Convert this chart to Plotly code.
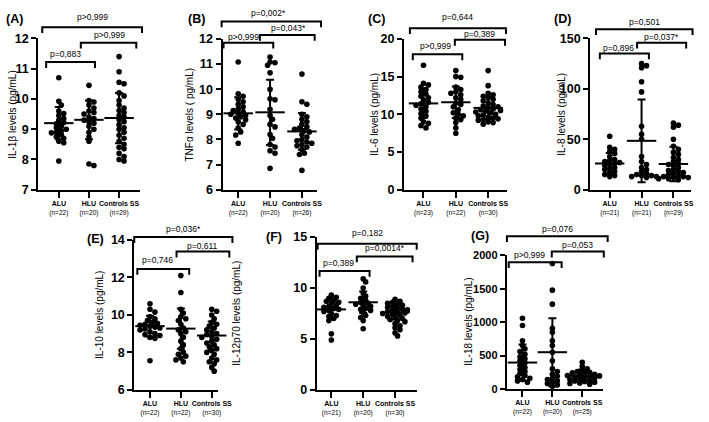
import numpy as np
import plotly.graph_objects as go

W, H = 709, 422
groups = ["ALU", "HLU", "Controls SS"]

# ---------------- data ----------------
# (A) IL-1beta
il1b_n = [22, 20, 29]
il1b_alu = [10.7, 9.92, 9.8, 9.6, 9.52, 9.45, 9.35, 9.3, 9.22, 9.18, 9.1, 9.05, 9.0, 8.95, 8.9, 8.88, 8.82, 8.75, 8.7, 8.6, 8.55, 7.95]
il1b_hlu = [10.45, 9.95, 9.9, 9.8, 9.7, 9.6, 9.55, 9.5, 9.4, 9.35, 9.3, 9.25, 9.2, 9.1, 9.0, 8.9, 8.75, 8.6, 7.85, 7.8]
il1b_ctl = [11.4, 10.9, 10.55, 10.5, 10.2, 10.1, 9.95, 9.8, 9.7, 9.62, 9.55, 9.45, 9.4, 9.32, 9.25, 9.15, 9.05, 9.0, 8.9, 8.8, 8.7, 8.6, 8.5, 8.4, 8.35, 8.2, 8.1, 8.0, 7.95]
il1b_mean = [9.2, 9.31, 9.37]
il1b_sd = [0.53, 0.64, 0.83]
il1b_p = ["p>0,999", "p>0,999", "p=0,883"]

# (B) TNF-alpha
tnf_n = [22, 20, 26]
tnf_alu = [11.08, 9.82, 9.72, 9.6, 9.5, 9.4, 9.3, 9.22, 9.15, 9.1, 9.05, 9.0, 8.95, 8.9, 8.85, 8.78, 8.7, 8.6, 8.45, 8.3, 8.18, 7.85]
tnf_hlu = [11.28, 11.08, 11.05, 10.95, 10.65, 10.0, 9.62, 9.58, 9.2, 8.95, 8.8, 8.6, 8.5, 8.2, 8.05, 7.8, 7.7, 7.55, 7.45, 6.85]
tnf_ctl = [10.6, 9.5, 9.4, 9.0, 8.9, 8.8, 8.7, 8.6, 8.5, 8.45, 8.4, 8.35, 8.3, 8.2, 8.1, 8.0, 7.95, 7.9, 7.85, 7.8, 7.75, 7.7, 7.6, 7.45, 7.4, 6.77]
tnf_mean = [9.04, 9.08, 8.32]
tnf_sd = [0.64, 1.3, 0.73]
tnf_p = ["p=0,002*", "p=0,043*", "p>0,999"]

# (C) IL-6
il6_n = [23, 22, 30]
il6_alu = [16.5, 14.1, 13.9, 13.6, 13.3, 13.0, 12.7, 12.4, 12.2, 11.9, 11.6, 11.4, 11.2, 11.0, 10.7, 10.4, 10.1, 9.8, 9.5, 9.0, 8.8, 8.5, 8.2]
il6_hlu = [15.8, 15.0, 14.9, 13.6, 13.3, 13.0, 12.8, 12.6, 12.2, 12.0, 11.5, 11.3, 11.0, 10.6, 10.2, 10.0, 9.8, 9.5, 9.3, 8.9, 8.2, 7.5]
il6_ctl = [15.8, 13.8, 12.8, 12.6, 12.4, 12.2, 12.0, 11.8, 11.5, 11.3, 11.1, 11.0, 10.9, 10.7, 10.6, 10.5, 10.4, 10.3, 10.2, 10.0, 9.9, 9.8, 9.6, 9.5, 9.4, 9.3, 9.2, 9.0, 8.9, 8.7]
il6_mean = [11.45, 11.6, 10.85]
il6_sd = [1.95, 2.1, 1.5]
il6_p = ["p=0,644", "p=0,389", "p>0,999"]

# (D) IL-8
il8_n = [21, 21, 29]
il8_alu = [53, 42, 40, 38, 36, 33, 30, 29, 28, 27, 26, 25, 24, 22, 21, 20, 18, 17, 15, 14, 13]
il8_hlu = [125, 123, 121, 107, 97, 63, 55, 50, 33, 28, 25, 22, 20, 18, 16, 15, 14, 14, 13, 13, 12]
il8_ctl = [66, 64, 62, 50, 43, 40, 37, 35, 32, 30, 28, 26, 25, 24, 22, 20, 19, 18, 17, 16, 15, 14, 13, 13, 12, 12, 11, 11, 10]
il8_mean = [26, 48.5, 25.5]
il8_sd = [10.5, 41, 17]
il8_p = ["p=0,501", "p=0,037*", "p=0,896"]

# (E) IL-10
il10_n = [22, 22, 30]
il10_alu = [10.6, 10.3, 10.15, 9.9, 9.8, 9.7, 9.6, 9.55, 9.5, 9.45, 9.4, 9.35, 9.3, 9.25, 9.2, 9.1, 9.0, 8.95, 8.9, 8.8, 8.75, 7.55]
il10_hlu = [12.1, 11.2, 10.3, 10.1, 9.9, 9.8, 9.7, 9.5, 9.3, 9.2, 9.1, 9.0, 8.8, 8.6, 8.4, 8.2, 8.0, 7.9, 7.8, 7.7, 7.6, 7.5]
il10_ctl = [10.3, 10.2, 10.0, 9.8, 9.6, 9.5, 9.4, 9.3, 9.2, 9.1, 9.0, 8.95, 8.9, 8.85, 8.8, 8.7, 8.6, 8.5, 8.4, 8.3, 8.2, 8.1, 8.0, 7.9, 7.7, 7.6, 7.5, 7.4, 7.2, 7.0]
il10_mean = [9.4, 9.27, 8.9]
il10_sd = [0.55, 1.07, 0.75]
il10_p = ["p=0,036*", "p=0,611", "p=0,746"]

# (F) IL-12p70
il12_n = [21, 20, 30]
il12_alu = [9.3, 9.1, 9.0, 8.8, 8.7, 8.6, 8.5, 8.3, 8.2, 8.1, 8.0, 7.9, 7.8, 7.7, 7.5, 7.3, 7.2, 7.0, 6.8, 5.5, 4.9]
il12_hlu = [10.9, 10.6, 10.0, 9.5, 9.2, 9.0, 8.8, 8.6, 8.5, 8.4, 8.3, 8.2, 8.0, 7.9, 7.8, 7.6, 7.3, 7.1, 6.8, 6.0]
il12_ctl = [8.9, 8.7, 8.6, 8.5, 8.4, 8.3, 8.2, 8.1, 8.0, 7.9, 7.85, 7.8, 7.7, 7.6, 7.55, 7.5, 7.4, 7.3, 7.2, 7.1, 7.0, 6.9, 6.8, 6.7, 6.5, 6.3, 6.1, 5.9, 5.6, 5.3]
il12_mean = [7.9, 8.6, 7.6]
il12_sd = [1.0, 1.05, 0.7]
il12_p = ["p=0,182", "p=0,0014*", "p=0,389"]

# (G) IL-18
il18_n = [22, 20, 25]
il18_alu = [1060, 950, 720, 650, 600, 560, 520, 480, 450, 420, 390, 350, 320, 290, 260, 230, 200, 180, 160, 140, 120, 100]
il18_hlu = [1880, 1480, 1270, 910, 850, 720, 650, 550, 420, 300, 260, 220, 190, 160, 140, 120, 100, 80, 60, 40]
il18_ctl = [400, 340, 300, 280, 260, 250, 240, 230, 220, 210, 200, 195, 190, 180, 170, 160, 150, 140, 130, 120, 110, 100, 90, 80, 70]
il18_mean = [395, 550, 195]
il18_sd = [270, 510, 95]
il18_p = ["p=0,076", "p=0,053", "p>0,999"]

# ---------------- layout of panels (pixel geometry) ----------------
# bracket tuples: (left, right in category units, bracket y px, label y px, label x shift px)
panels = [
    dict(tag="(A)", title="IL-1β levels (pg/mL)", n=il1b_n, vals=[il1b_alu, il1b_hlu, il1b_ctl],
         mean=il1b_mean, sd=il1b_sd, p=il1b_p, yr=[7, 12], dt=1, tfs=12.5,
         xl=39, xr=143, c0=60, sp=30.75, yt=32.5, yb=189, tx=12, lab=(15, 12),
         br=[(-0.55, 2.76, 21, 10, 0), (0.73, 2.57, 37, 29, 1), (-0.42, 1.2, 57, 49, -5)]),
    dict(tag="(B)", title="TNFα levels ( pg/mL)", n=tnf_n, vals=[tnf_alu, tnf_hlu, tnf_ctl],
         mean=tnf_mean, sd=tnf_sd, p=tnf_p, yr=[6, 12], dt=1, tfs=12.5,
         xl=227, xr=323, c0=243, sp=32.5, yt=33, yb=189, tx=193, lab=(200, 12),
         br=[(-0.52, 2.6, 15, 6, -3), (0.68, 2.4, 29, 22, 1), (-0.46, 1.1, 37, 31, -5)]),
    dict(tag="(C)", title="IL-6 levels (pg/mL)", n=il6_n, vals=[il6_alu, il6_hlu, il6_ctl],
         mean=il6_mean, sd=il6_sd, p=il6_p, yr=[0, 20], dt=5, tfs=12.5,
         xl=412, xr=517, c0=432, sp=33, yt=33, yb=189, tx=382, lab=(384, 12),
         br=[(-0.42, 2.55, 22, 10, 0), (0.97, 2.52, 34, 28, 0), (-0.33, 1.2, 49, 40, -2)]),
    dict(tag="(D)", title="IL-8 levels (pg/mL)", n=il8_n, vals=[il8_alu, il8_hlu, il8_ctl],
         mean=il8_mean, sd=il8_sd, p=il8_p, yr=[0, 150], dt=50, tfs=12.5,
         xl=602, xr=705, c0=622, sp=32.5, yt=32.5, yb=189, tx=572, lab=(574, 12),
         br=[(-0.43, 2.6, 23, 15, 0), (0.86, 2.4, 37, 31, 0), (-0.31, 1.23, 48, 42, -6)]),
    dict(tag="(E)", title="IL-10 levels (pg/mL)", n=il10_n, vals=[il10_alu, il10_hlu, il10_ctl],
         mean=il10_mean, sd=il10_sd, p=il10_p, yr=[6, 14], dt=2, tfs=12.5,
         xl=137, xr=222, c0=153, sp=31.5, yt=241, yb=396, tx=102, lab=(97, 240),
         br=[(-0.51, 2.67, 238, 230, 0), (0.86, 2.57, 253, 247, 0), (-0.41, 1.27, 271, 262, -6)]),
    dict(tag="(F)", title="IL-12p70 levels (pg/mL)", n=il12_n, vals=[il12_alu, il12_hlu, il12_ctl],
         mean=il12_mean, sd=il12_sd, p=il12_p, yr=[0, 15], dt=5, tfs=12.5,
         xl=323, xr=425, c0=338, sp=32.5, yt=238, yb=396, tx=241, lab=(280, 238),
         br=[(-0.43, 2.68, 245, 234, 0), (0.8, 2.55, 258, 249, 0), (-0.37, 1.2, 273, 265, -6)]),
    dict(tag="(G)", title="IL-18 levels (pg/mL)", n=il18_n, vals=[il18_alu, il18_hlu, il18_ctl],
         mean=il18_mean, sd=il18_sd, p=il18_p, yr=[0, 2000], dt=500, tfs=11,
         xl=517, xr=615, c0=533, sp=30.5, yt=257, yb=395, tx=478, lab=(490, 237),
         br=[(-0.52, 2.85, 237, 230, 0), (0.98, 2.72, 253, 246, 0), (-0.46, 1.31, 264, 256, -6)]),
]

FONT = "Liberation Sans, Arial, sans-serif"
DOT = 5.6


def swarm(vals, ppu_y, ppu_x, d=DOT):
    v = np.asarray(vals, dtype=float)
    order = np.argsort(-v)
    placed = []
    offs = np.zeros(len(v))
    for i in order:
        y = v[i] * ppu_y
        cand = 0.0
        for k in range(0, 60):
            step = ((k + 1) // 2) * d * 0.45
            cand = 0.0 if k == 0 else (step if k % 2 == 1 else -step)
            if all((cand - px) ** 2 + (y - py) ** 2 >= (d * 0.72) ** 2 for px, py in placed):
                break
        placed.append((cand, y))
        offs[i] = cand / ppu_x
    return offs


fig = go.Figure()
shapes, annos = [], []
lay = {}

for k, P in enumerate(panels, start=1):
    xa = "x" if k == 1 else f"x{k}"
    ya = "y" if k == 1 else f"y{k}"
    r0 = (P["xl"] - P["c0"]) / P["sp"]
    r1 = (P["xr"] - P["c0"]) / P["sp"]
    ppu_y = (P["yb"] - P["yt"]) / (P["yr"][1] - P["yr"][0])
    for gi, vals in enumerate(P["vals"]):
        offs = swarm(vals, ppu_y, P["sp"])
        fig.add_trace(go.Scatter(
            x=gi + offs, y=vals, xaxis=xa, yaxis=ya, mode="markers",
            marker=dict(color="black", size=DOT, line=dict(width=0)),
            showlegend=False, hoverinfo="skip", cliponaxis=False))
    fig.add_trace(go.Scatter(
        x=[0, 1, 2], y=P["mean"], xaxis=xa, yaxis=ya, mode="markers",
        marker=dict(symbol="line-ew", size=21, color="black",
                    line=dict(width=2, color="black")),
        error_y=dict(type="data", array=P["sd"], visible=True,
                     width=4, thickness=2, color="black"),
        showlegend=False, hoverinfo="skip", cliponaxis=False))

    ticktext = [f"<b>{g}</b><br><span style='font-size:6.5px'>(n={n})</span>"
                for g, n in zip(groups, P["n"])]
    lay["xaxis" if k == 1 else f"xaxis{k}"] = dict(
        domain=[P["xl"] / W, P["xr"] / W], range=[r0, r1], anchor=ya,
        tickvals=[0, 1, 2], ticktext=ticktext, tickangle=0, ticks="outside", ticklen=6,
        tickwidth=2, tickcolor="black", showline=True, linewidth=2,
        linecolor="black", showgrid=False, zeroline=False,
        tickfont=dict(family=FONT, size=7, color="black"), fixedrange=True)
    lay["yaxis" if k == 1 else f"yaxis{k}"] = dict(
        domain=[1 - P["yb"] / H, 1 - P["yt"] / H], range=P["yr"], anchor=xa,
        tick0=P["yr"][0], dtick=P["dt"], ticks="outside", ticklen=5,
        tickwidth=2, tickcolor="black", showline=True, linewidth=2,
        linecolor="black", showgrid=False, zeroline=False,
        tickfont=dict(family=FONT, size=P["tfs"], color="black", weight="bold"),
        fixedrange=True)

    xd = f"{xa} domain"
    wpx = P["xr"] - P["xl"]
    for (a, b, yb_px, ly, lsh), txt in zip(P["br"], P["p"]):
        da = (a - r0) / (r1 - r0)
        db = (b - r0) / (r1 - r0)
        ytop = 1 - yb_px / H
        ydn = 1 - (yb_px + 6) / H
        shapes.append(dict(type="path", xref=xd, yref="paper",
                           path=f"M {da},{ydn} L {da},{ytop} L {db},{ytop} L {db},{ydn}",
                           line=dict(color="black", width=2)))
        annos.append(dict(text=txt, xref=xd, yref="paper",
                          x=(da + db) / 2 + lsh / wpx,
                          y=1 - ly / H, showarrow=False, xanchor="center",
                          yanchor="middle",
                          font=dict(family=FONT, size=8.5, color="black")))
    annos.append(dict(text=P["title"], xref="paper", yref="paper",
                      x=P["tx"] / W, y=1 - (P["yt"] + P["yb"]) / 2 / H,
                      textangle=-90, showarrow=False, xanchor="center",
                      yanchor="middle",
                      font=dict(family=FONT, size=10, color="black")))
    annos.append(dict(text=f"<b>{P['tag']}</b>", xref="paper", yref="paper",
                      x=P["lab"][0] / W, y=1 - P["lab"][1] / H, showarrow=False,
                      xanchor="center", yanchor="middle",
                      font=dict(family=FONT, size=12.5, color="black")))

fig.update_layout(width=W, height=H, margin=dict(l=0, r=0, t=0, b=0),
                  paper_bgcolor="white", plot_bgcolor="white",
                  shapes=shapes, annotations=annos, showlegend=False, **lay)

fig.write_html("out.html", config={"displayModeBar": False})
